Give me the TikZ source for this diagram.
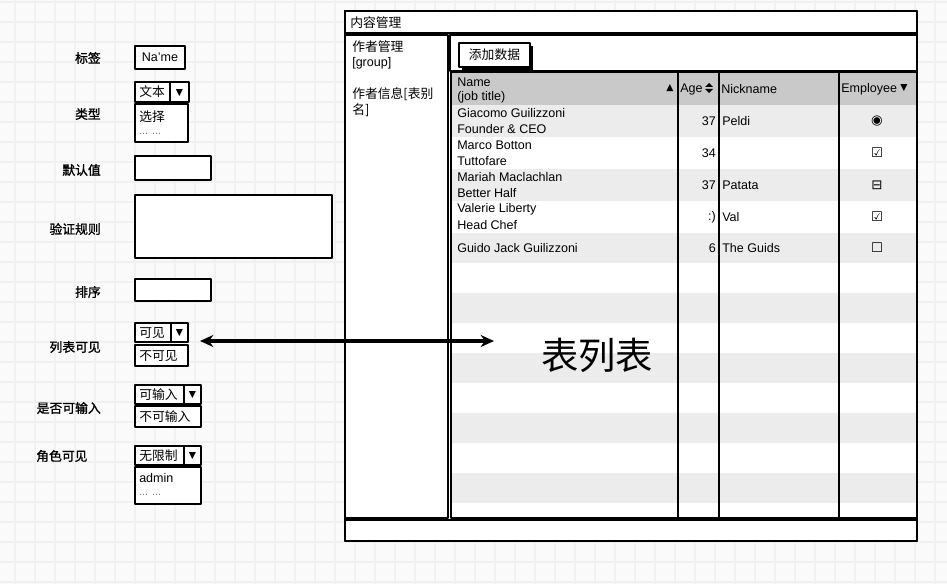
\documentclass[tikz,border=0pt]{standalone}
\usepackage{fontspec}
\usepackage{tikz}
\usetikzlibrary{arrows.meta}
\setmainfont{Liberation Sans}
\newfontfamily\cjk{Noto Sans CJK SC}
\newfontfamily\cjkmed{Noto Sans CJK SC}[FakeBold=1.3]
\newfontfamily\symfont{DejaVu Sans}

\tikzset{
  gridline/.style={draw={rgb, 255:red, 241; green, 241; blue, 241}, line width=1pt},
  sketch/.style={draw=black, line width=1.5pt, line join=round, fill=white},
  colline/.style={draw=black, line width=1.2pt},
  ui/.style={inner sep=0pt, font=\fontsize{9.4}{11}\selectfont},
  cjkui/.style={inner sep=0pt, font=\cjk\fontsize{9.6}{11}\selectfont},
  formlabel/.style={inner sep=0pt, anchor=east, font=\cjkmed\fontsize{9.6}{11}\selectfont},
  moredots/.style={inner sep=0pt, anchor=west, text={rgb, 255:red, 120; green, 120; blue, 120}, font=\fontsize{8}{9}\selectfont},
  droptri/.style={inner sep=0pt, font=\symfont\fontsize{7}{8}\selectfont},
  empsym/.style={inner sep=0pt, font=\symfont\fontsize{10}{11}\selectfont},
  bigarrow/.style={line width=2.3pt, {Stealth[length=10pt,width=9pt]}-{Stealth[length=10pt,width=9pt]}},
}

\begin{document}
\begin{tikzpicture}[x=0.75pt,y=0.75pt,yscale=-1,xscale=1]
\useasboundingbox (0,0) rectangle (947,584);
\fill[fill={rgb, 255:red, 250; green, 250; blue, 250}] (0,0) rectangle (947,584);
\foreach \gx in {15,35,...,935} \draw[gridline] (\gx,0) -- (\gx,584);
\foreach \gy in {2,22,...,582} \draw[gridline] (0,\gy) -- (947,\gy);

% form labels
\node[formlabel] (lbltag) at (101,58) {标签};
\node[formlabel] (lbltype) at (101,114) {类型};
\node[formlabel] (lbldef) at (101,170) {默认值};
\node[formlabel] (lblrule) at (101,229) {验证规则};
\node[formlabel] (lblsort) at (101,292) {排序};
\node[formlabel] (lblvis) at (101,347) {列表可见};
\node[formlabel] (lblinput) at (101,408) {是否可输入};
\node[formlabel, anchor=west] (lblrole) at (36,456) {角色可见};

% form fields
\draw[sketch] (135,46) rectangle (185,69);
\node[ui] (fname) at (160,57.5) {Na'me};
\draw[sketch] (135,82) rectangle (170,102); \draw[sketch] (170,82) rectangle (189,102);
\node[cjkui, anchor=west] (ftype) at (139,92) {文本};
\node[droptri] (ftypebtn) at (179.5,93) {▼};
\draw[sketch] (135,104) rectangle (188,142);
\node[cjkui, anchor=west] (ftypeopt) at (139,117) {选择};
\node[moredots] (ftypemore) at (139,134) {... ...};
\draw[sketch] (135,156) rectangle (211,180);
\draw[sketch] (135,195) rectangle (332,258);
\draw[sketch] (135,279) rectangle (211,301);
\draw[sketch] (135,323) rectangle (171,342); \draw[sketch] (171,323) rectangle (188,342);
\node[cjkui, anchor=west] (fvis) at (139,333) {可见};
\node[droptri] (fvisbtn) at (179.5,333.5) {▼};
\draw[sketch] (135,345) rectangle (188,366);
\node[cjkui, anchor=west] (fvisopt) at (139,356) {不可见};
\draw[sketch] (135,385) rectangle (184,404); \draw[sketch] (184,385) rectangle (201,404);
\node[cjkui, anchor=west] (finput) at (139,395) {可输入};
\node[droptri] (finputbtn) at (192.5,395.5) {▼};
\draw[sketch] (135,406) rectangle (201,427);
\node[cjkui, anchor=west] (finputopt) at (139,417) {不可输入};
\draw[sketch] (135,446) rectangle (184,465); \draw[sketch] (184,446) rectangle (201,465);
\node[cjkui, anchor=west] (frole) at (139,456) {无限制};
\node[droptri] (frolebtn) at (192.5,456.5) {▼};
\draw[sketch] (135,467) rectangle (201,504);
\node[ui, anchor=west] (froleopt) at (139,478) {admin};
\node[moredots] (frolemore) at (139,495) {... ...};

% window
\draw[sketch] (345,11) rectangle (917,541);
\draw[sketch] (345,11) rectangle (917,33);
\node[cjkui, anchor=west] (wintitle) at (350,23) {内容管理};
\draw[sketch] (345,35) rectangle (448,518);
\node[cjkui, anchor=west] (navgroup) at (352,47) {作者管理};
\node[ui, anchor=west] (navgroupb) at (352,63) {[group]};
\node[cjkui, anchor=west] (navinfo) at (352,94) {作者信息[表别};
\node[cjkui, anchor=west] (navinfob) at (352,110) {名]};
\draw[sketch] (450,35) rectangle (917,71);
\fill (462,46) rectangle (533,70);
\draw[sketch, line width=1.2pt] (459,43) rectangle (530,67);
\node[cjkui] (btnadd) at (494.5,55) {添加数据};

% table
\fill[white] (451,72) rectangle (917,518);
\fill[fill={rgb, 255:red, 201; green, 201; blue, 201}] (451,72) rectangle (917,105);
\foreach \ya/\yb in {105/137,169/201,233/263,293/323,353/383,413/443,473/503}
  \fill[fill={rgb, 255:red, 236; green, 236; blue, 236}] (451,\ya) rectangle (917,\yb);
\foreach \cx in {678,719,839} \draw[colline] (\cx,72) -- (\cx,518);
\draw[sketch, fill=none] (451,72) rectangle (917,518);
\draw[sketch] (345,520) rectangle (917,541);

\node[ui, anchor=west] (hname) at (457,82) {Name};
\node[ui, anchor=west] (hjob) at (457,97) {(job title)};
\node[droptri] (hnamesort) at (670,88) {▲};
\node[ui, anchor=west] (hage) at (680,89) {Age};
\fill (705,87) -- (713,87) -- (709,83) -- cycle;
\fill (705,89) -- (713,89) -- (709,93) -- cycle;
\node[ui, anchor=west] (hnick) at (721,89) {Nickname};
\node[ui, anchor=west] (hemp) at (841,89) {Employee};
\node[droptri] (hempsort) at (904,88) {▼};

\foreach \i/\ry/\na/\nb/\age/\nick/\emp in {1/121/Giacomo Guilizzoni/Founder \& CEO/37/Peldi/◉,
    2/153/Marco Botton/Tuttofare/34/ /☑, 3/185/Mariah Maclachlan/Better Half/37/Patata/⊟,
    4/217/Valerie Liberty/Head Chef/:)/Val/☑} {
  \node[ui, anchor=west] (na\i) at (457,\ry-8) {\na};
  \node[ui, anchor=west] (nb\i) at (457,\ry+8) {\nb};
  \node[ui, anchor=east] (age\i) at (716,\ry) {\age};
  \node[ui, anchor=west] (nick\i) at (722,\ry) {\nick};
  \node[empsym] (emp\i) at (877,\ry) {\emp};
}
\node[ui, anchor=west] (na5) at (457,248) {Guido Jack Guilizzoni};
\node[ui, anchor=east] (age5) at (716,248) {6};
\node[ui, anchor=west] (nick5) at (722,248) {The Guids};
\node[empsym] (emp5) at (877,248) {☐};

\node[inner sep=0pt, font=\cjk\fontsize{28}{30}\selectfont] (tbltitle) at (597,355) {表列表};

% link arrow
\coordinate (arrL) at (200,341);
\coordinate (arrR) at (494,341);
\draw[bigarrow] (arrL) -- (arrR);
\end{tikzpicture}
\end{document}
